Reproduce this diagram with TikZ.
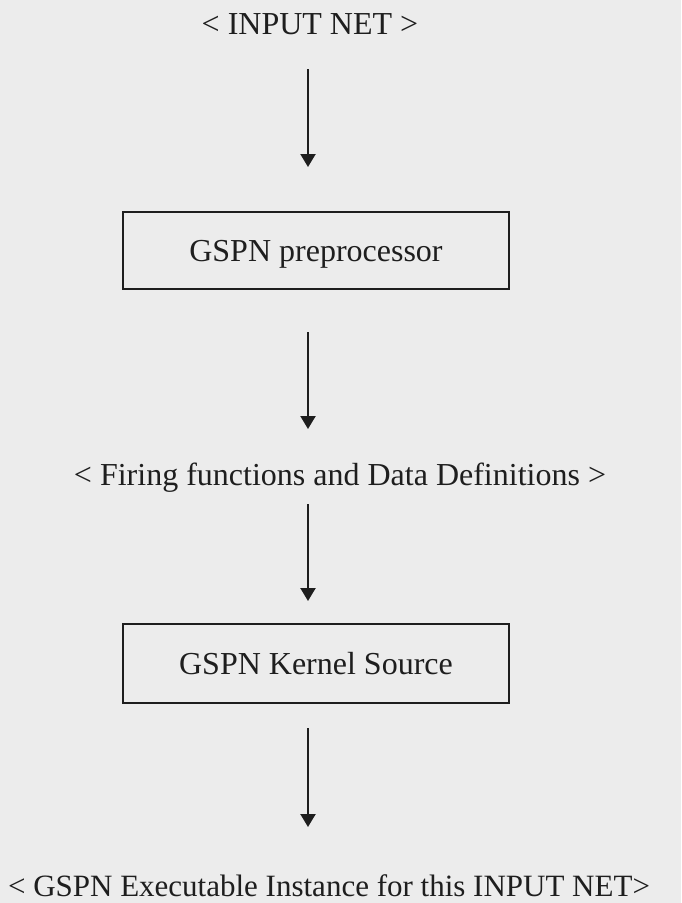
\documentclass[tikz,border=0pt]{standalone}
\usepackage{fontspec}
\setmainfont{Liberation Serif}
\usetikzlibrary{arrows.meta}
\definecolor{bg}{RGB}{236,236,236}
\definecolor{ink}{RGB}{30,30,30}
\begin{document}
\begin{tikzpicture}[x=1pt,y=-1pt,
  txt/.style={font=\fontsize{32}{36}\selectfont, text=ink, inner sep=0pt},
  procbox/.style={draw=ink, line width=2.4pt, minimum width=386pt, minimum height=77pt, inner sep=0pt, text height=24pt, text depth=3pt, font=\fontsize{32}{36}\selectfont, text=ink},
  flow/.style={draw=ink, line width=2.2pt, -{Triangle[width=15pt,length=13pt]}}]
\fill[bg] (0,0) rectangle (681,903);
\useasboundingbox (0,0) rectangle (681,903);
\node[txt, anchor=base] (input) at (310,34) {< INPUT NET >};
\node[procbox] (pre) at (316,250.5) {GSPN preprocessor\hspace{10pt}};
\node[txt, anchor=base] (fire) at (340,485) {< Firing functions and Data Definitions >};
\node[procbox, minimum height=79pt] (kern) at (316,663.5) {GSPN Kernel Source};
\node[txt, anchor=base, font=\fontsize{31}{36}\selectfont] (exe) at (329,896) {< GSPN Executable Instance for this INPUT NET>};
\coordinate (a1s) at (308,69); \coordinate (a1e) at (308,167);
\coordinate (a2s) at (308,332); \coordinate (a2e) at (308,429);
\coordinate (a3s) at (308,504); \coordinate (a3e) at (308,601);
\coordinate (a4s) at (308,728); \coordinate (a4e) at (308,827);
\draw[flow] (a1s) -- (a1e);
\draw[flow] (a2s) -- (a2e);
\draw[flow] (a3s) -- (a3e);
\draw[flow] (a4s) -- (a4e);
\end{tikzpicture}
\end{document}
